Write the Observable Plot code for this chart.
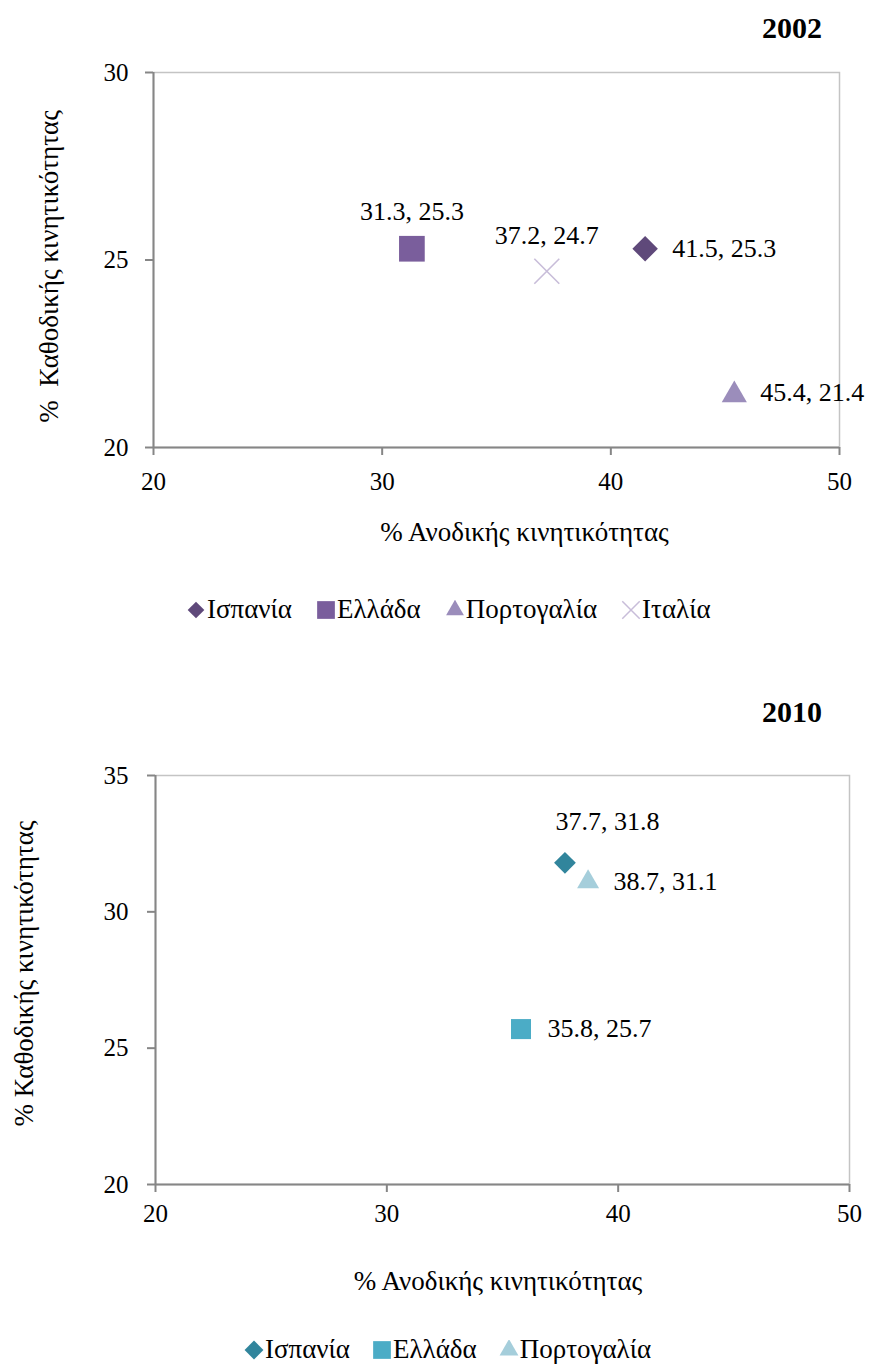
<!DOCTYPE html>
<html>
<head>
<meta charset="utf-8">
<script src="https://cdn.jsdelivr.net/npm/d3@7"></script>
<script src="https://cdn.jsdelivr.net/npm/@observablehq/plot@0.6"></script>
<style>
  body { margin: 0; background: #fff; }
  #root { position: relative; width: 869px; height: 1365px; background: #fff; overflow: hidden; color: #000; }
  #root, #root * { font-family: "Liberation Serif", "Times New Roman", serif; }
  .title { position: absolute; z-index: 2; font-weight: bold; font-size: 30px; line-height: 30px; }
  .legend { position: absolute; z-index: 2; display: flex; align-items: center; font-size: 27px; line-height: 27px; white-space: nowrap; }
  .legend .item { display: flex; align-items: center; }
  .legend svg { display: block; margin-right: 1px; }
  .chart { position: absolute; left: 0; z-index: 1; }
</style>
</head>
<body>
<div id="root"></div>
<script>
// ---------- data ----------
const countries2002 = ["Ισπανία", "Ελλάδα", "Πορτογαλία", "Ιταλία"];
const upward2002 = [41.5, 31.3, 45.4, 37.2];
const downward2002 = [25.3, 25.3, 21.4, 24.7];

const countries2010 = ["Ισπανία", "Ελλάδα", "Πορτογαλία"];
const upward2010 = [37.7, 35.8, 38.7];
const downward2010 = [31.8, 25.7, 31.1];

const xTicks = [20, 30, 40, 50];
const yTicks2002 = [20, 25, 30];
const yTicks2010 = [20, 25, 30, 35];

const titles = ["2002", "2010"];
const xLabel = "% Ανοδικής κινητικότητας";
const yLabel2002 = "%  Καθοδικής κινητικότητας";
const yLabel2010 = "% Καθοδικής κινητικότητας";

// ---------- styles (not data) ----------
const style2002 = {
  "Ισπανία":    {symbol: "diamond2",  color: "#5f497a", r: 11.5, dx: 27, dy: 0,   anchor: "start",  lr: 7.5},
  "Ελλάδα":     {symbol: "square",    color: "#7a5e9c", r: 14.5, dx: 0,  dy: -37, anchor: "middle", lr: 10},
  "Πορτογαλία": {symbol: "triangle2", color: "#9b8dbb", r: 12,   dx: 26, dy: -2,  anchor: "start",  lr: 8.5},
  "Ιταλία":     {symbol: "times",     color: "#c8bdd9", r: 11.4, dx: 0,  dy: -36, anchor: "middle", lr: 8}
};
const style2010 = {
  "Ισπανία":    {symbol: "diamond2",  color: "#31859c", r: 9.8,  dx: -9.5, dy: -41, anchor: "start", lr: 8.5},
  "Ελλάδα":     {symbol: "square",    color: "#4bacc6", r: 11.3, dx: 26.5, dy: 0,   anchor: "start", lr: 10},
  "Πορτογαλία": {symbol: "triangle2", color: "#a5cedb", r: 10.5, dx: 25.5, dy: 0,   anchor: "start", lr: 9}
};

const FONT = "Liberation Serif";
const AXIS = "#868686";
const root = document.getElementById("root");

function makeChart(cfg) {
  const data = cfg.countries.map((c, i) => ({country: c, x: cfg.xs[i], y: cfg.ys[i]}));
  const st = cfg.style;
  const pointMarks = data.map(d => {
    const s = st[d.country];
    return s.symbol === "times"
      ? Plot.dot([d], {x: "x", y: "y", symbol: "times", stroke: s.color, strokeWidth: 1.6, r: s.r})
      : Plot.dot([d], {x: "x", y: "y", symbol: s.symbol, fill: s.color, stroke: "none", r: s.r});
  });
  const labelMarks = data.map(d => {
    const s = st[d.country];
    return Plot.text([d], {x: "x", y: "y", text: d => `${d.x.toFixed(1)}, ${d.y.toFixed(1)}`,
      dx: s.dx, dy: s.dy, textAnchor: s.anchor, lineAnchor: "middle", fontSize: 26, fill: "#000"});
  });
  const svg = Plot.plot({
    width: 869,
    height: cfg.height,
    marginLeft: cfg.ml, marginRight: cfg.mr, marginTop: cfg.mt, marginBottom: cfg.mb,
    style: {fontFamily: FONT, fontSize: "25px", color: "#000", background: "transparent", overflow: "visible"},
    x: {domain: [20, 50]},
    y: {domain: cfg.yDomain},
    marks: [
      Plot.frame({stroke: "#c4c4c4", strokeWidth: 1.5}),
      Plot.ruleX([20], {stroke: AXIS, strokeWidth: 2}),
      Plot.ruleY([cfg.yDomain[0]], {stroke: AXIS, strokeWidth: 2}),
      Plot.axisX(xTicks, {tickSize: 8, tickPadding: cfg.xPad, stroke: AXIS, strokeWidth: 2, fontSize: 25, label: null, fill: "#000"}),
      Plot.axisY(cfg.yTicks, {tickSize: 8, tickPadding: cfg.yPad, stroke: AXIS, strokeWidth: 2, fontSize: 25, label: null, fill: "#000"}),
      Plot.text([xLabel], {frameAnchor: "bottom", textAnchor: "middle", lineAnchor: "middle",
        dx: cfg.xlDx, dy: cfg.xlDy, fontSize: 27, fill: "#000"}),
      Plot.text([cfg.yLabel], {frameAnchor: "left", textAnchor: "middle", lineAnchor: "middle", rotate: -90,
        dx: cfg.ylDx, dy: cfg.ylDy, fontSize: 27, fill: "#000"}),
      ...pointMarks,
      ...labelMarks
    ]
  });
  svg.setAttribute("font-family", FONT);
  return svg;
}

function swatch(s, size) {
  const svg = d3.create("svg").attr("width", size + 2).attr("height", size + 2);
  const path = d3.symbol(d3["symbol" + s.symbol.charAt(0).toUpperCase() + s.symbol.slice(1)], Math.PI * s.lr * s.lr)();
  const p = svg.append("path").attr("d", path).attr("transform", `translate(${(size + 2) / 2},${(size + 2) / 2})`);
  if (s.symbol === "times") p.attr("fill", "none").attr("stroke", s.color).attr("stroke-width", 1.5);
  else p.attr("fill", s.color);
  return svg.node();
}

function makeLegend(countries, style, left, top, gap) {
  const div = document.createElement("div");
  div.className = "legend";
  div.style.left = left + "px";
  div.style.top = top + "px";
  div.style.gap = gap + "px";
  countries.forEach(c => {
    const item = document.createElement("div");
    item.className = "item";
    item.appendChild(swatch(style[c], 18));
    const t = document.createElement("span");
    t.textContent = c;
    item.appendChild(t);
    div.appendChild(item);
  });
  return div;
}

function addTitle(text, top) {
  const d = document.createElement("div");
  d.className = "title";
  d.textContent = text;
  d.style.right = "47px";
  d.style.top = top + "px";
  root.appendChild(d);
}

// Chart 2002
const c1 = makeChart({
  countries: countries2002, xs: upward2002, ys: downward2002, style: style2002,
  height: 560, ml: 153, mr: 30, mt: 72, mb: 113, yDomain: [20, 30], yTicks: yTicks2002,
  xPad: 17, yPad: 17, xlDx: 28, xlDy: 85, yLabel: yLabel2002, ylDx: -104, ylDy: 6.5
});
c1.classList.add("chart"); c1.style.top = "0px";
root.appendChild(c1);
addTitle(titles[0], 12.5);
root.appendChild(makeLegend(countries2002, style2002, 186, 596, 24));

// Chart 2010
const c2 = makeChart({
  countries: countries2010, xs: upward2010, ys: downward2010, style: style2010,
  height: 600, ml: 155, mr: 20, mt: 75, mb: 116, yDomain: [20, 35], yTicks: yTicks2010,
  xPad: 12, yPad: 19, xlDx: -4.5, xlDy: 97, yLabel: yLabel2010, ylDx: -131, ylDy: -6.5
});
c2.classList.add("chart"); c2.style.top = "700px";
root.appendChild(c2);
addTitle(titles[1], 697);
root.appendChild(makeLegend(countries2010, style2010, 244, 1336, 22));
</script>
</body>
</html>
